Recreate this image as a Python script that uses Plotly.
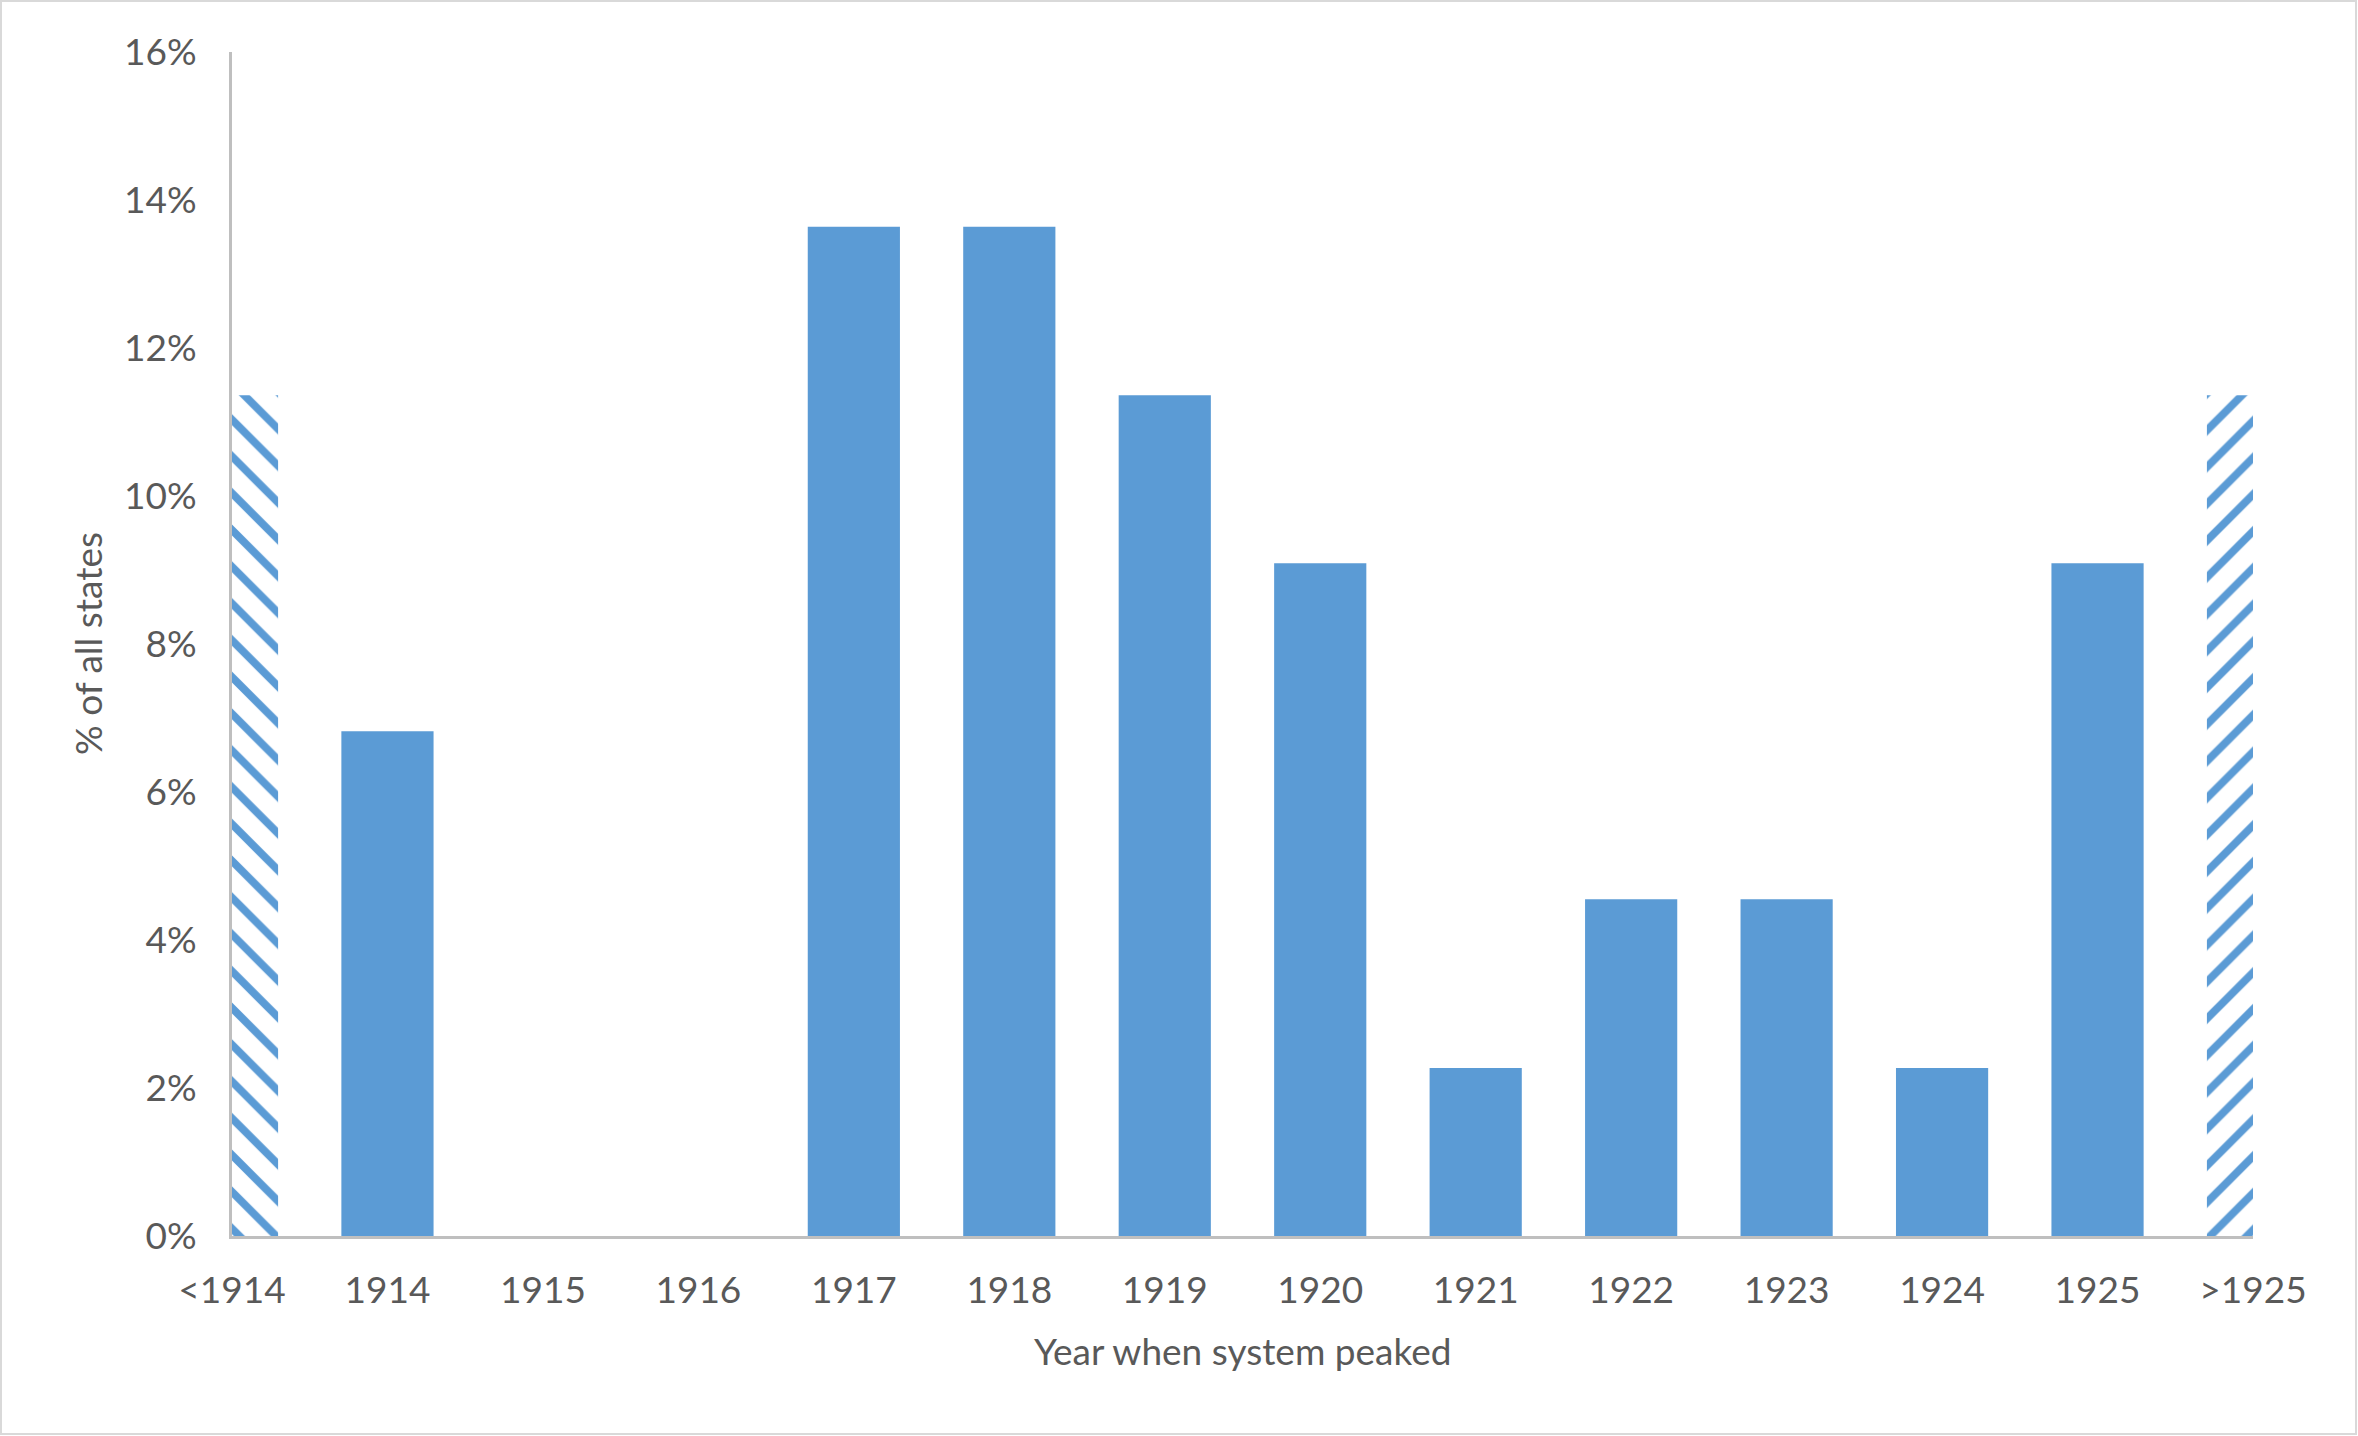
import plotly.graph_objects as go

categories = ["<1914", "1914", "1915", "1916", "1917", "1918", "1919", "1920",
              "1921", "1922", "1923", "1924", "1925", ">1925"]
share = [0.1136, 0.0682, 0.0, 0.0, 0.1364, 0.1364, 0.1136, 0.0909,
         0.0227, 0.0455, 0.0455, 0.0227, 0.0909, 0.1136]
patterns = ["\\", "", "", "", "", "", "", "", "", "", "", "", "", "/"]

W, H = 2358, 1436
L, R, T, B = 232, 105, 52, 200
pw, ph = W - L - R, H - T - B

BLUE = "#5B9BD5"
TXT = "#595959"
FONT = "Lato"
FS = 37

fig = go.Figure()
fig.add_trace(go.Bar(
    x=list(range(len(categories))), y=share,
    width=0.593,
    marker=dict(color=BLUE, line=dict(width=0),
                pattern=dict(shape=patterns, size=26, solidity=0.3,
                             fgcolor=BLUE, bgcolor="white", fillmode="replace")),
    hoverinfo="skip",
))

fig.update_layout(
    width=W, height=H,
    margin=dict(l=L, r=R, t=T, b=B),
    paper_bgcolor="white", plot_bgcolor="white",
    showlegend=False,
    font=dict(family=FONT, size=FS, color=TXT),
    xaxis=dict(
        range=[0, len(categories) - 1],
        tickmode="array", tickvals=list(range(len(categories))), ticktext=categories,
        showgrid=False, zeroline=False, showline=True, linecolor="#BFBFBF", linewidth=3,
        ticks="", ticklabelstandoff=20,
        tickfont=dict(family=FONT, size=FS, color=TXT),
    ),
    yaxis=dict(
        range=[0, 0.16], dtick=0.02, tickformat=".0%",
        showgrid=False, zeroline=False, showline=True, linecolor="#BFBFBF", linewidth=3,
        ticks="", ticklabelstandoff=25,
        tickfont=dict(family=FONT, size=FS, color=TXT),
    ),
    annotations=[
        dict(text="Year when system peaked", xref="paper", yref="paper",
             x=0.5, y=-(1350 - (T + ph)) / ph, xanchor="center", yanchor="middle",
             showarrow=False, font=dict(family=FONT, size=FS, color=TXT)),
        dict(text="% of all states", xref="paper", yref="paper",
             x=-(L - 87) / pw, y=0.5, xanchor="center", yanchor="middle", textangle=-90,
             showarrow=False, font=dict(family=FONT, size=FS, color=TXT)),
    ],
    shapes=[dict(type="rect", xref="paper", yref="paper",
                 x0=-(L - 1) / pw, x1=1 + (R - 2) / pw,
                 y0=-(B - 2) / ph, y1=1 + (T - 1) / ph,
                 line=dict(color="#D9D9D9", width=2), fillcolor="rgba(0,0,0,0)", layer="below")],
)

fig.write_html("out.html", config={"displayModeBar": False},
               post_script="document.body.style.margin='0px';document.body.style.overflow='hidden';")
